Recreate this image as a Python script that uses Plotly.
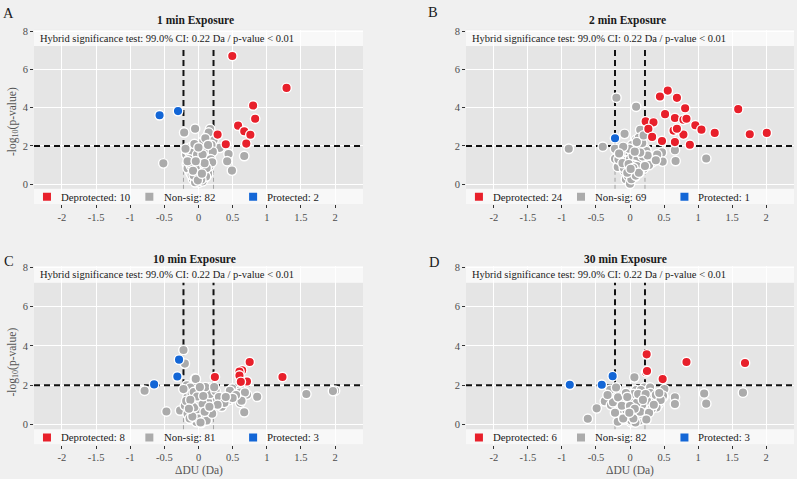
import plotly.graph_objects as go

FONT = "Liberation Serif, Times New Roman, serif"
RED = "#E8202B"
GREY = "#ABABAB"
BLUE = "#1366D6"

# ---- tick labels / thresholds ----
x_tick_vals = [-2, -1.5, -1, -0.5, 0, 0.5, 1, 1.5, 2]
x_tick_text = ["-2", "-1.5", "-1", "-0.5", "0", "0.5", "1", "1.5", "2"]
y_tick_vals = [0, 2, 4, 6, 8]
y_tick_text = ["0", "2", "4", "6", "8"]
ci_threshold = 0.22
p_threshold_log = 2.0

panel_letters = ["A", "B", "C", "D"]
panel_titles = ["1 min Exposure", "2 min Exposure", "10 min Exposure", "30 min Exposure"]
dep_counts = [10, 24, 8, 6]
ns_counts = [82, 69, 81, 82]
prot_counts = [2, 1, 3, 3]
test_label = "Hybrid significance test: 99.0% CI: 0.22 Da / p-value < 0.01"

# ---- Panel A: 1 min ----
a_dep_x = [0.495, 1.29, 0.80, 0.83, 0.58, 0.67, 0.76, 0.28, 0.40, 0.70]
a_dep_y = [6.70, 5.03, 4.11, 3.42, 3.06, 2.77, 2.58, 2.59, 2.09, 2.12]
a_prot_x = [-0.57, -0.30]
a_prot_y = [3.60, 3.82]
a_ns_x = [-0.515, -0.21, -0.05, 0.17, 0.13, 0.12, 0.20, 0.17, 0.05, -0.03,
          -0.12, -0.18, -0.10, 0.02, 0.10, 0.18, -0.17, -0.05, 0.10, -0.12,
          0.00, -0.08, 0.01, 0.31, 0.44, 0.42, 0.49, 0.67, -0.16, -0.06,
          0.10, 0.12, -0.03, 0.01, 0.22, -0.15, 0.07, -0.07, 0.15, 0.04,
          -0.10, 0.08, 0.14, -0.02, 0.06, -0.05, 0.19, 0.15, 0.08, -0.09,
          0.03, -0.14, 0.13, 0.21, -0.19, 0.05, -0.11, 0.16, -0.04, 0.09,
          0.02, -0.07, 0.11, 0.04, -0.01, 0.13, -0.02, 0.06, -0.13, 0.18,
          0.07, -0.06, 0.10, 0.14, 0.00, -0.16, 0.20, 0.12, -0.08, 0.05,
          0.09, -0.04]
a_ns_y = [1.09, 2.70, 2.90, 2.88, 2.51, 2.20, 2.33, 1.90, 2.07, 1.81,
          1.92, 1.55, 1.38, 1.64, 1.47, 1.55, 1.04, 0.95, 0.87, 0.61,
          0.43, 0.26, 0.09, 1.90, 1.58, 1.20, 0.71, 1.47, 0.83, 1.43,
          1.37, 0.61, 0.35, 1.69, 2.30, 1.75, 1.20, 1.15, 1.10, 0.75,
          0.48, 0.30, 0.55, 0.60, 0.15, 0.10, 2.05, 2.70, 1.80, 1.65,
          1.30, 1.30, 1.85, 1.70, 1.85, 1.00, 0.95, 0.95, 0.80, 0.62,
          0.50, 0.45, 0.40, 0.25, 0.20, 1.25, 1.55, 1.55, 1.12, 1.30,
          2.25, 2.10, 2.40, 2.05, 1.92, 1.20, 1.15, 0.85, 0.70, 0.55,
          1.10, 1.20]

# ---- Panel B: 2 min ----
b_dep_x = [0.555, 0.44, 0.69, 0.81, 1.59, 0.515, 0.66, 0.785, 0.83, 0.23,
           0.345, 0.96, 0.27, 1.05, 0.64, 0.325, 0.785, 1.245, 1.76, 2.01,
           0.47, 0.66, 0.88, 0.69]
b_dep_y = [4.89, 4.58, 4.51, 3.97, 3.92, 3.66, 3.46, 3.37, 3.42, 3.28,
           3.23, 3.08, 2.89, 2.85, 2.80, 2.47, 2.59, 2.68, 2.61, 2.68,
           2.26, 2.20, 2.06, 2.90]
b_prot_x = [-0.22]
b_prot_y = [2.40]
b_ns_x = [-0.90, -0.40, -0.20, 0.09, -0.08, 0.15, 0.09, 0.13, -0.22, -0.22,
          -0.18, -0.06, -0.13, -0.08, -0.06, 0.00, 0.03, 0.09, 0.075, 0.16,
          0.235, 0.22, 0.335, 0.32, 0.47, 0.48, 0.66, 0.67, 1.12, 0.20,
          0.14, -0.05, 0.00, 0.17, 0.24, 0.34, -0.09, -0.03, 0.02, 0.085,
          0.14, -0.17, 0.04, 0.11, -0.11, 0.06, 0.19, -0.02, 0.10, 0.12,
          0.03, 0.18, -0.14, 0.05, -0.04, 0.13, 0.26, 0.28, 0.40, 0.38,
          -0.01, 0.15, -0.10, 0.07, 0.22, 0.01, -0.16, 0.10, 0.20]
b_ns_y = [1.85, 1.96, 4.52, 4.05, 2.63, 2.84, 2.32, 2.42, 1.85, 1.33,
          0.90, 1.76, 1.33, 0.69, 0.26, 0.02, 0.69, 1.59, 0.40, 1.04,
          1.81, 1.33, 1.42, 1.12, 1.66, 1.18, 1.78, 1.21, 1.34, 0.81,
          0.61, 1.73, 1.30, 1.12, 1.73, 1.38, 0.85, 0.43, 0.26, 0.45,
          0.78, 1.30, 1.50, 1.30, 1.10, 1.00, 1.45, 1.05, 0.95, 1.95,
          2.05, 2.15, 1.60, 0.85, 0.60, 0.60, 1.50, 1.00, 1.55, 1.25,
          1.85, 1.65, 1.95, 1.70, 0.95, 0.80, 1.60, 2.20, 2.55]

# ---- Panel C: 10 min ----
c_dep_x = [0.75, 0.64, 0.60, 0.60, 0.71, 0.62, 0.24, 1.23]
c_dep_y = [3.18, 2.76, 2.69, 2.49, 2.19, 2.17, 2.42, 2.42]
c_prot_x = [-0.285, -0.31, -0.65]
c_prot_y = [3.30, 2.44, 2.04]
c_ns_x = [-0.22, -0.20, -0.05, -0.79, -0.47, -0.17, -0.12, -0.16, -0.085, -0.12,
          -0.27, -0.20, -0.16, -0.03, 0.04, 0.05, -0.05, 0.10, 0.12, 0.19,
          0.19, 0.15, 0.26, 0.22, 0.34, 0.45, 0.495, 0.61, 0.63, 0.67,
          0.71, 0.86, 1.58, 2.00, 1.97, 0.62, 0.61, 0.68, 0.46, 0.44,
          0.63, -0.04, -0.10, 0.02, 0.08, 0.00, 0.08, -0.02, 0.14, -0.13,
          0.07, 0.00, 0.11, -0.06, 0.03, -0.07, 0.17, 0.25, 0.30, 0.38,
          0.12, -0.09, 0.03, 0.15, -0.18, 0.06, -0.02, 0.10, 0.02, 0.55,
          0.50, 0.28, -0.12, 0.20, -0.22, 0.09, 0.16, 0.23, 0.07, 0.40,
          -0.14]
c_ns_y = [3.79, 3.10, 2.34, 1.72, 0.66, 2.00, 1.88, 1.41, 1.04, 0.66,
          0.71, 0.96, 0.54, 0.12, 0.07, 0.99, 1.30, 1.38, 0.54, 0.99,
          1.80, 1.88, 1.46, 1.21, 0.90, 1.25, 1.83, 1.10, 1.46, 0.62,
          1.52, 1.41, 1.55, 1.72, 1.70, 1.78, 1.63, 1.63, 1.72, 1.25,
          1.21, 2.32, 1.55, 1.60, 1.75, 0.50, 0.80, 0.75, 1.15, 0.30,
          0.25, 0.30, 0.45, 0.88, 1.20, 1.65, 1.55, 1.70, 1.40, 1.10,
          0.20, 0.40, 0.10, 0.70, 1.20, 1.05, 1.42, 1.90, 1.90, 1.50,
          1.35, 1.00, 1.25, 0.55, 1.80, 0.65, 0.90, 1.90, 1.45, 1.40,
          0.80]

# ---- Panel D: 30 min ----
d_dep_x = [0.245, 0.83, 1.69, 0.235, 0.48, 0.25]
d_dep_y = [3.57, 3.18, 3.13, 2.66, 2.31, 2.72]
d_prot_x = [-0.885, -0.415, -0.255]
d_prot_y = [2.02, 2.02, 2.46]
d_ns_x = [-0.62, -0.49, -0.37, -0.29, -0.28, -0.205, -0.19, -0.18, -0.12, -0.15,
          -0.03, -0.08, 0.015, 0.065, 0.09, 0.11, 0.15, 0.14, 0.21, 0.235,
          0.275, 0.295, 0.36, 0.42, 0.49, 0.505, 0.66, 0.66, 1.09, 1.12,
          1.66, -0.25, -0.14, -0.08, 0.044, -0.05, 0.02, 0.00, 0.10, 0.22,
          0.29, 0.27, 0.34, 0.41, 0.39, 0.485, -0.175, 0.16, 0.14, 0.05,
          -0.02, 0.20, 0.12, 0.06, -0.10, 0.08, 0.17, 0.30, 0.25, 0.32,
          -0.06, 0.03, 0.18, 0.10, -0.12, 0.05, 0.12, 0.38, 0.45, -0.22,
          0.23, 0.00, -0.04, 0.15, 0.28, 0.35, 0.43, -0.33, 0.07, 0.19,
          0.24, -0.01]
d_ns_y = [0.29, 0.82, 1.18, 1.77, 0.99, 1.88, 1.30, 0.14, 1.38, 1.04,
          0.79, 0.54, 0.12, 2.40, 1.75, 1.30, 1.38, 0.20, 1.88, 0.45,
          1.01, 1.88, 1.25, 1.04, 1.41, 1.80, 1.38, 1.04, 1.58, 1.06,
          1.62, 1.13, 0.79, 1.13, 0.96, 0.71, 0.20, 0.45, 0.45, 0.71,
          0.96, 1.38, 1.38, 1.13, 0.87, 1.46, 1.38, 1.75, 1.30, 1.55,
          1.20, 1.15, 0.90, 0.65, 0.30, 0.10, 0.55, 1.60, 1.20, 0.80,
          1.60, 1.10, 1.00, 1.10, 0.95, 0.30, 1.55, 1.50, 1.25, 0.60,
          1.55, 0.95, 1.40, 0.65, 0.60, 1.00, 1.60, 1.50, 0.80, 1.25,
          0.25, 0.60]

panels = [
    (a_ns_x, a_ns_y, a_dep_x, a_dep_y, a_prot_x, a_prot_y),
    (b_ns_x, b_ns_y, b_dep_x, b_dep_y, b_prot_x, b_prot_y),
    (c_ns_x, c_ns_y, c_dep_x, c_dep_y, c_prot_x, c_prot_y),
    (d_ns_x, d_ns_y, d_dep_x, d_dep_y, d_prot_x, d_prot_y),
]

W, H = 797, 479
XR = [-2.41, 2.41]
YR = [-1.03, 8.07]
STRIP_TOP = 7.22
STRIP_BOT = -0.24
LEGEND_Y = -0.66
legend_square_x = [-2.22, -0.72, 0.80]
legend_text_x = [-2.04, -0.54, 0.975]

# pixel layout of the four panels (left, right, top, bottom)
boxes = [(34, 363, 25.95, 201.6), (466, 794, 25.95, 201.6),
         (34, 363, 264.2, 444.4), (466, 794, 264.2, 444.4)]

fig = go.Figure()
layout = dict(width=W, height=H, margin=dict(l=0, r=0, t=0, b=0),
              paper_bgcolor="#F0F0F0", plot_bgcolor="#E5E5E5",
              showlegend=False, font=dict(family=FONT, color="#1A1A1A"))
shapes = []
annotations = []
BLACK_DASH = dict(color="#111111", width=2, dash="6px,4px")
GREY_DASH = dict(color="#A3A3A3", width=1, dash="4px,3px")

for i, (nsx, nsy, dx, dy, px, py) in enumerate(panels):
    n = "" if i == 0 else str(i + 1)
    xa, ya = "x" + n, "y" + n
    l, r, t, b = boxes[i]
    common = dict(showgrid=True, gridcolor="#FFFFFF", gridwidth=1, zeroline=False,
                  ticks="outside", ticklen=3, tickcolor="#333333", showline=False,
                  tickfont=dict(family=FONT, size=10.5, color="#4D4D4D"))
    layout["xaxis" + n] = dict(domain=[l / W, r / W], range=XR, anchor=ya,
                               tickvals=x_tick_vals, ticktext=x_tick_text, **common)
    layout["yaxis" + n] = dict(domain=[1 - b / H, 1 - t / H], range=YR, anchor=xa,
                               tickvals=y_tick_vals, ticktext=y_tick_text, **common)

    xd = xa + " domain"
    # white strips (top: test label; bottom: legend)
    shapes.append(dict(type="rect", xref=xd, yref=ya, x0=0, x1=1, y0=STRIP_TOP, y1=YR[1],
                       fillcolor="#F8F8F8", line=dict(width=0), layer="below"))
    shapes.append(dict(type="rect", xref=xd, yref=ya, x0=0, x1=1, y0=YR[0], y1=STRIP_BOT,
                       fillcolor="#F8F8F8", line=dict(width=0), layer="below"))

    # threshold lines (drawn as line traces under the points)
    for sgn in (-1, 1):
        fig.add_trace(go.Scatter(x=[sgn * ci_threshold] * 2, y=[STRIP_BOT, p_threshold_log],
                                 mode="lines", line=GREY_DASH, xaxis=xa, yaxis=ya, hoverinfo="skip"))
        fig.add_trace(go.Scatter(x=[sgn * ci_threshold] * 2, y=[p_threshold_log, STRIP_TOP],
                                 mode="lines", line=BLACK_DASH, xaxis=xa, yaxis=ya, hoverinfo="skip"))
    fig.add_trace(go.Scatter(x=XR, y=[p_threshold_log] * 2, mode="lines", line=BLACK_DASH,
                             xaxis=xa, yaxis=ya, hoverinfo="skip"))

    for (xs, ys, col) in [(nsx, nsy, GREY), (dx, dy, RED), (px, py, BLUE)]:
        fig.add_trace(go.Scatter(
            x=xs, y=ys, mode="markers", xaxis=xa, yaxis=ya,
            marker=dict(color=col, size=9.5, line=dict(color="white", width=1.4)),
            hoverinfo="skip"))

    # legend (inside bottom strip)
    fig.add_trace(go.Scatter(x=legend_square_x, y=[LEGEND_Y] * 3, mode="markers",
                             marker=dict(symbol="square", size=8, color=[RED, GREY, BLUE],
                                         line=dict(width=0)),
                             xaxis=xa, yaxis=ya, hoverinfo="skip"))
    leg_texts = ["Deprotected: %d" % dep_counts[i], "Non-sig: %d" % ns_counts[i],
                 "Protected: %d" % prot_counts[i]]
    for tx, txt in zip(legend_text_x, leg_texts):
        annotations.append(dict(xref=xa, yref=ya, x=tx, y=LEGEND_Y, text=txt, showarrow=False,
                                xanchor="left", yanchor="middle",
                                font=dict(family=FONT, size=10.8, color="#1A1A1A")))
    # test label
    annotations.append(dict(xref=xd, yref=ya, x=0.011, y=7.62, text=test_label, showarrow=False,
                            xanchor="left", yanchor="middle",
                            font=dict(family=FONT, size=10.5, color="#1A1A1A")))

# panel titles and letters
title_pos = [(195.5, 17), (627, 17), (194.5, 257.5), (625.5, 257.5)]
letter_pos = [(8.5, 9.5), (433, 8.5), (8.5, 259), (433.5, 260.5)]
for i in range(4):
    tx, ty = title_pos[i]
    annotations.append(dict(xref="paper", yref="paper", x=tx / W, y=1 - ty / H,
                            text="<b>%s</b>" % panel_titles[i], showarrow=False,
                            xanchor="center", yanchor="middle",
                            font=dict(family=FONT, size=11.5, color="#1A1A1A")))
    lx, ly = letter_pos[i]
    annotations.append(dict(xref="paper", yref="paper", x=lx / W, y=1 - ly / H,
                            text=panel_letters[i], showarrow=False,
                            xanchor="center", yanchor="middle",
                            font=dict(family=FONT, size=14.5, color="#1A1A1A")))

# axis titles
for (x, y) in [(13, 119), (13, 361.5)]:
    annotations.append(dict(xref="paper", yref="paper", x=x / W, y=1 - y / H,
                            text="-log<sub>10</sub>(p-value)", textangle=-90, showarrow=False,
                            xanchor="center", yanchor="middle",
                            font=dict(family=FONT, size=11.5, color="#555555")))
for (x, y) in [(199, 470), (630, 470)]:
    annotations.append(dict(xref="paper", yref="paper", x=x / W, y=1 - y / H,
                            text="ΔDU (Da)", showarrow=False,
                            xanchor="center", yanchor="middle",
                            font=dict(family=FONT, size=11.5, color="#555555")))

layout["shapes"] = shapes
layout["annotations"] = annotations
fig.update_layout(**layout)
fig.write_html("out.html", config={"displayModeBar": False},
               post_script="document.body.style.margin='0';document.body.style.background='#F0F0F0';")
